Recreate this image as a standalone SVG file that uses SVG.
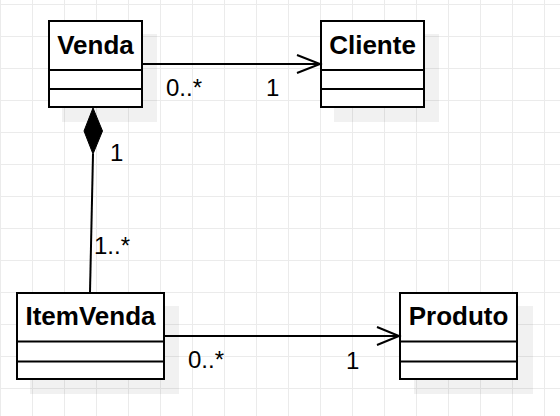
<svg xmlns="http://www.w3.org/2000/svg" width="560" height="416" viewBox="0 0 560 416">
<defs>
<pattern id="grid" patternUnits="userSpaceOnUse" x="0" y="4" width="32" height="32">
<path d="M0.5 0 V32 M0 0.5 H32" fill="none" stroke="#ebebeb" stroke-width="1"/>
</pattern>
<style>
.shadow{fill:#000;fill-opacity:0.055;stroke:none}
.box{fill:#fff;stroke:#000;stroke-width:2}
.div{stroke:#000;stroke-width:2;fill:none}
.name{font-family:"Liberation Sans",Arial,sans-serif;font-weight:bold;font-size:26px;fill:#000;text-anchor:middle}
.lbl{font-family:"Liberation Sans",Arial,sans-serif;font-size:24px;fill:#000}
.edge{stroke:#000;stroke-width:2;fill:none}
</style>
</defs>
<rect width="560" height="416" fill="#fff"/>
<rect width="560" height="416" fill="url(#grid)"/>

<g id="venda">
<rect class="shadow" x="62" y="34" width="95" height="88"/>
<rect class="box" x="49" y="21" width="93" height="86"/>
<path class="div" d="M49 70 H142 M49 89 H142"/>
<text class="name" x="95.5" y="54">Venda</text>
</g>

<g id="cliente">
<rect class="shadow" x="334" y="34" width="105" height="88"/>
<rect class="box" x="321" y="21" width="103" height="86"/>
<path class="div" d="M321 70 H424 M321 89 H424"/>
<text class="name" x="372.5" y="54">Cliente</text>
</g>

<g id="itemvenda">
<rect class="shadow" x="30" y="306" width="149" height="88"/>
<rect class="box" x="17" y="293" width="147" height="86"/>
<path class="div" d="M17 341.5 H164 M17 361.5 H164"/>
<text class="name" x="90.5" y="325">ItemVenda</text>
</g>

<g id="produto">
<rect class="shadow" x="414" y="306" width="119" height="88"/>
<rect class="box" x="400" y="293" width="117" height="86"/>
<path class="div" d="M400 341.5 H517 M400 361.5 H517"/>
<text class="name" x="458.5" y="325">Produto</text>
</g>

<g id="connectors">
<path class="edge" d="M143 64 H319"/>
<path class="edge" d="M297 55 L320 64 L297 73"/>
<text class="lbl" x="166" y="96">0..*</text>
<text class="lbl" x="266" y="96">1</text>

<path d="M93 108 L102.5 131 L93 154 L84 131 Z" fill="#000" stroke="#000" stroke-width="1"/>
<path class="edge" d="M93 154 L90 292"/>
<text class="lbl" x="110" y="161">1</text>
<text class="lbl" x="94" y="254">1..*</text>

<path class="edge" d="M165 336 H398"/>
<path class="edge" d="M377 327 L399 336 L377 345"/>
<text class="lbl" x="188" y="368">0..*</text>
<text class="lbl" x="346" y="369">1</text>
</g>
</svg>
